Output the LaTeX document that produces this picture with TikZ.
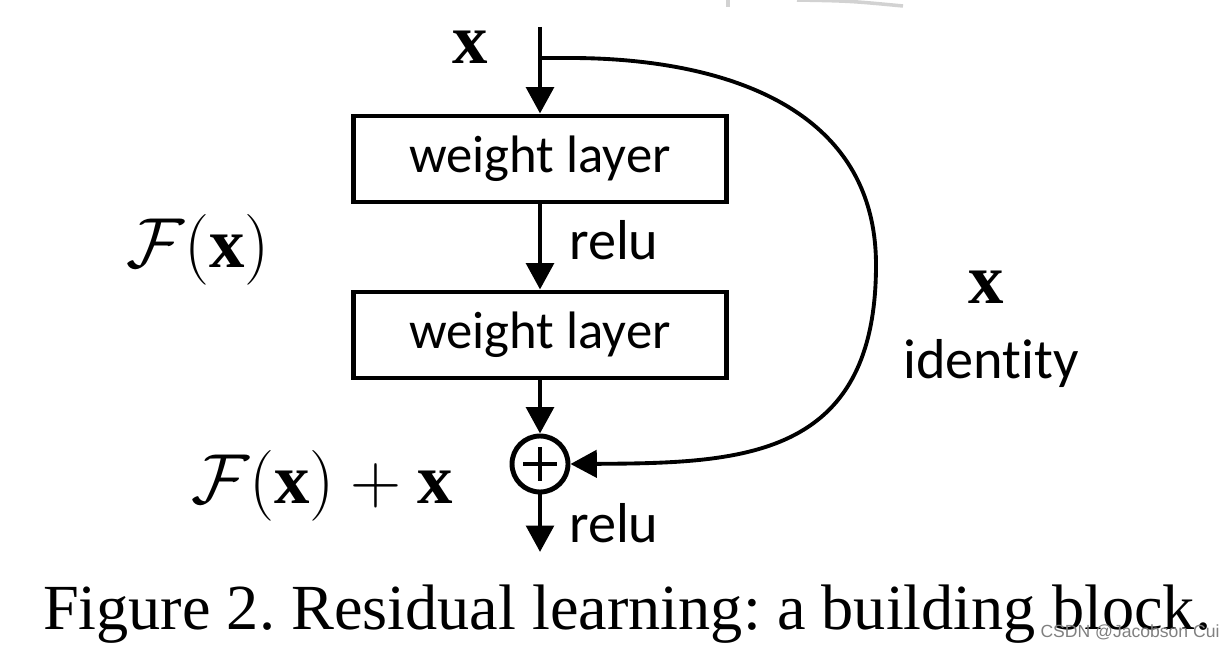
\documentclass[tikz,border=0pt]{standalone}
\usepackage{graphicx}
\usepackage{fontspec}
\setmainfont{Liberation Serif}
\newfontfamily\calibri[Ligatures=NoCommon]{Carlito}
\newfontfamily\arialfont{Liberation Sans}
\usetikzlibrary{arrows.meta}
\frenchspacing
\newcommand{\bigmath}[1]{\scalebox{1.62}{\fontsize{24.88}{28}\selectfont$#1$}}
\begin{document}
\begin{tikzpicture}[x=0.02cm,y=-0.02cm,
  layer/.style={draw, line width=2.8pt, minimum width=7.46cm, minimum height=1.72cm, inner sep=0pt, font=\calibri\fontsize{30}{34}\selectfont},
  flow/.style={line width=2.8pt, -{Triangle[length=15pt,width=15.5pt]}},
  sanslbl/.style={font=\calibri\fontsize{32}{36}\selectfont}]
\useasboundingbox (0,0) rectangle (1230,648);
% scraps of the screenshot at the top
\draw[line width=2.6pt, gray!35] (728,0) -- (728,7);
\draw[line width=2pt, gray!35] (797,0) .. controls (850,1) .. (903,6);
% main branch
\coordinate (top) at (540,27);
\coordinate (split) at (540,58);
\node[layer] (wl1) at (540,159){weight layer};
\node[layer] (wl2) at (540,335){weight layer};
\node[circle, draw, line width=2.8pt, minimum size=1.12cm, inner sep=0pt] (add) at (540,464){};
\draw[line width=2.8pt] (add.center) ++(-17,0) -- ++(34,0);
\draw[line width=2.8pt] (add.center) ++(0,-17) -- ++(0,34);
\coordinate (out) at (540,552);
\draw[flow](top) -- (wl1);
\draw[flow](wl1) -- (wl2);
\draw[flow](wl2) -- (add);
\draw[flow](add) -- (out);
% shortcut
\draw[line width=2.8pt] (split) -- (570,58);
\draw[line width=2.2pt, -{Triangle[length=15pt,width=15.5pt]}] (570,58) .. controls (710,58) and (876,100) .. (876,265) .. controls (876,460) and (740,463) .. (add.east);
% labels
\node[inner sep=1pt] (xin) at (470,47){\bigmath{\mathbf{x}}};
\node[sanslbl, anchor=west] (relu1) at (563,240){relu};
\node[sanslbl, anchor=west] (relu2) at (563,523){relu};
\node (fx) at (198,250){\bigmath{\mathcal{F}(\mathbf{x})}};
\node (fxx) at (322,486){\bigmath{\mathcal{F}(\mathbf{x})+\mathbf{x}}};
\node (xid) at (986,287){\bigmath{\mathbf{x}}};
\node[sanslbl] (ident) at (991,364){identity};
\node[font=\fontsize{36.6}{42}\selectfont] (caption) at (627,614){Figure 2. Residual learning: a building block.};
\node[font=\arialfont\fontsize{10}{12}\selectfont, text=gray] (mark) at (1130,632){CSDN @Jacobson Cui};
\end{tikzpicture}
\end{document}
